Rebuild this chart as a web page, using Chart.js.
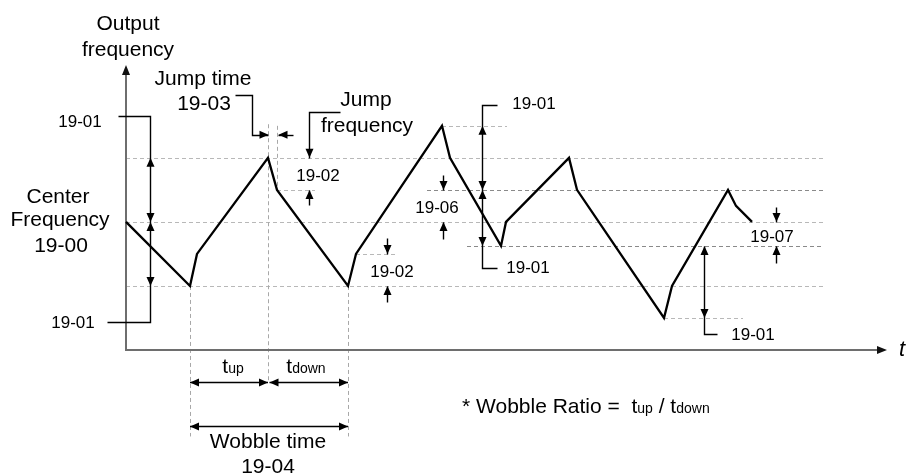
<!DOCTYPE html>
<html lang="en">
<head>
<meta charset="UTF-8">
<title>Wobble frequency</title>
<script src="https://cdn.jsdelivr.net/npm/chart.js@4.4.1/dist/chart.umd.min.js"></script>
<style>
  html, body { margin: 0; padding: 0; background: #fff; }
  .chart-container { position: relative; width: 907px; height: 474px; }
</style>
</head>
<body>
<div class="chart-container"><canvas id="myChart"></canvas></div>
<script>
// output frequency curve: time and frequency values
const timePoints = [0, 64, 71, 142, 151, 222, 230, 316, 324, 375, 380, 443, 451, 538, 546, 602, 610, 626];
const freqValues = [50, 30, 40, 70, 60, 30, 40, 80, 70, 42.5, 50, 70, 60, 20, 30, 60, 55, 50];

// dashed reference levels: [level, from t, to t, darker]
const guideLevels = [
  [70, 0, 697, false],
  [50, 0, 697, false],
  [30, 0, 697, false],
  [80, 316, 381, false],
  [60, 301, 697, true],
  [42.5, 341, 697, true],
  [20, 538, 617, false],
  [60, 151, 189, false],
  [40, 230, 269, false]
];
// dashed time markers: [t, from level, to level]
const guideTimes = [
  [64, 30, -17],
  [142, 80.5, 0],
  [151, 80, 60],
  [222, 30, -17]
];

// leader lines (t, level)
const leaders = [
  [[-8, 83.1], [24, 83.1], [24, 18.75], [-19, 18.75]],
  [[109, 89.7], [126, 89.7], [126, 77.2], [142, 77.2]],
  [[167, 77.2], [152, 77.2]],
  [[214, 84.4], [183, 84.4], [183, 70]],
  [[183, 55.3], [183, 60]],
  [[261, 45], [261, 40]],
  [[261, 25], [261, 30]],
  [[317, 64.7], [317, 60]],
  [[317, 44.7], [317, 50]],
  [[371, 86.6], [356, 86.6], [356, 35.6], [371, 35.6]],
  [[650, 54.7], [650, 50]],
  [[650, 37.2], [650, 42.5]],
  [[578, 42.5], [578, 15], [591, 15]]
];
const heads = [
  [24, 70, 'up'], [24, 50, 'down'], [24, 50, 'up'], [24, 30, 'down'],
  [142, 77.2, 'right'], [152, 77.2, 'left'],
  [183, 70, 'down'], [183, 60, 'up'],
  [261, 40, 'down'], [261, 30, 'up'],
  [317, 60, 'down'], [317, 50, 'up'],
  [356, 80, 'up'], [356, 60, 'down'], [356, 60, 'up'], [356, 42.5, 'down'],
  [650, 50, 'down'], [650, 42.5, 'up'],
  [578, 42.5, 'up'], [578, 20, 'down']
];
// double arrows: [from t, to t, level]
const spans = [[64, 142, 0], [143.5, 222, 0], [64, 222, -13.75]];

// texts: [text, t, level, big]
const labels = [
  ['Output', 2, 111.6, true],
  ['frequency', 2, 103.75, true],
  ['19-01', -46, 81.25, false],
  ['Center', -68, 57.8, true],
  ['Frequency', -66, 50.6, true],
  ['19-00', -65, 42.5, true],
  ['19-01', -53, 18.4, false],
  ['Jump time', 77, 94.7, true],
  ['19-03', 78, 86.9, true],
  ['Jump', 240, 88.1, true],
  ['frequency', 241, 80, true],
  ['19-02', 192, 64.1, false],
  ['19-02', 266, 34.4, false],
  ['19-06', 311, 54.4, false],
  ['19-01', 408, 86.6, false],
  ['19-01', 402, 35.6, false],
  ['19-07', 646, 45.3, false],
  ['19-01', 627, 14.7, false],
  ['Wobble time', 142, -18.75, true],
  ['19-04', 142, -26.5, true]
];
// texts with subscripts: [parts, t, level, centered]
const subLabels = [
  [[['t', 0], ['up', 1]], 107, 2.8, true],
  [[['t', 0], ['down', 1]], 180, 2.8, true],
  [[['* Wobble Ratio =  ', 0], ['t', 0], ['up', 1], [' / ', 0], ['t', 0], ['down', 1]], 336, -9.8, false]
];

const FONT = '"Liberation Sans", Arial, sans-serif';

function arrowHead(ctx, x, y, dir, len, half) {
   ctx.beginPath();
   ctx.moveTo(x, y);
   if (dir === 'up') { ctx.lineTo(x - half, y + len); ctx.lineTo(x + half, y + len); }
   if (dir === 'down') { ctx.lineTo(x - half, y - len); ctx.lineTo(x + half, y - len); }
   if (dir === 'left') { ctx.lineTo(x + len, y - half); ctx.lineTo(x + len, y + half); }
   if (dir === 'right') { ctx.lineTo(x - len, y - half); ctx.lineTo(x - len, y + half); }
   ctx.closePath();
   ctx.fill();
}

const diagramPlugin = {
   id: 'diagram',
   beforeDatasetsDraw(chart) {
      const ctx = chart.ctx;
      const xs = chart.scales.x, ys = chart.scales.y;
      ctx.save();
      ctx.lineWidth = 1;
      ctx.setLineDash([4, 3]);
      guideLevels.forEach(([lvl, a, b, dark]) => {
         const y = Math.round(ys.getPixelForValue(lvl)) + 0.5;
         ctx.strokeStyle = dark ? '#8a8a8a' : '#b8b8b8';
         ctx.beginPath();
         ctx.moveTo(xs.getPixelForValue(a), y);
         ctx.lineTo(xs.getPixelForValue(b), y);
         ctx.stroke();
      });
      ctx.strokeStyle = '#a8a8a8';
      guideTimes.forEach(([t, a, b]) => {
         const x = Math.round(xs.getPixelForValue(t)) + 0.5;
         ctx.beginPath();
         ctx.moveTo(x, ys.getPixelForValue(a));
         ctx.lineTo(x, ys.getPixelForValue(b));
         ctx.stroke();
      });
      ctx.setLineDash([]);

      // axes
      const x0 = xs.getPixelForValue(0), y0 = ys.getPixelForValue(10);
      const yTop = ys.getPixelForValue(99), xEnd = xs.getPixelForValue(761);
      ctx.strokeStyle = '#6e6e6e';
      ctx.lineWidth = 2;
      ctx.beginPath();
      ctx.moveTo(x0, yTop + 6);
      ctx.lineTo(x0, y0);
      ctx.lineTo(xEnd - 6, y0);
      ctx.stroke();
      ctx.fillStyle = '#111';
      arrowHead(ctx, x0, yTop, 'up', 10, 4);
      arrowHead(ctx, xEnd, y0, 'right', 10, 4);
      ctx.restore();
   },
   afterDatasetsDraw(chart) {
      const ctx = chart.ctx;
      const xs = chart.scales.x, ys = chart.scales.y;
      const px = v => xs.getPixelForValue(v), py = v => ys.getPixelForValue(v);
      ctx.save();
      ctx.strokeStyle = '#000';
      ctx.fillStyle = '#000';
      ctx.lineWidth = 1.4;
      leaders.forEach(pts => {
         ctx.beginPath();
         pts.forEach(([t, l], i) => {
            const x = Math.round(px(t)) + 0.5, y = Math.round(py(l)) + 0.5;
            if (i === 0) ctx.moveTo(x, y); else ctx.lineTo(x, y);
         });
         ctx.stroke();
      });
      heads.forEach(([t, l, dir]) => arrowHead(ctx, Math.round(px(t)) + 0.5, py(l), dir, 9, 4));
      spans.forEach(([a, b, l]) => {
         const y = Math.round(py(l)) + 0.5;
         ctx.beginPath();
         ctx.moveTo(px(a), y);
         ctx.lineTo(px(b), y);
         ctx.stroke();
         arrowHead(ctx, px(a), y, 'left', 9, 4);
         arrowHead(ctx, px(b), y, 'right', 9, 4);
      });

      // texts
      ctx.textAlign = 'center';
      ctx.textBaseline = 'middle';
      labels.forEach(([txt, t, l, big]) => {
         ctx.font = (big ? 21 : 17) + 'px ' + FONT;
         ctx.fillText(txt, px(t), py(l));
      });
      ctx.textAlign = 'left';
      ctx.textBaseline = 'alphabetic';
      subLabels.forEach(([parts, t, l, centered]) => {
         let w = 0;
         parts.forEach(([s, sub]) => {
            ctx.font = (sub ? 14 : 21) + 'px ' + FONT;
            w += ctx.measureText(s).width;
         });
         let x = centered ? px(t) - w / 2 : px(t);
         parts.forEach(([s, sub]) => {
            ctx.font = (sub ? 14 : 21) + 'px ' + FONT;
            ctx.fillText(s, x, py(l));
            x += ctx.measureText(s).width;
         });
      });
      ctx.font = 'italic 22px ' + FONT;
      ctx.textBaseline = 'middle';
      ctx.fillText('t', px(773), py(10));
      ctx.restore();
   }
};

const config = {
   type: 'line',
   data: {
      datasets: [{
         data: timePoints.map((t, i) => ({ x: t, y: freqValues[i] })),
         borderColor: '#000',
         borderWidth: 2.3,
         pointRadius: 0,
         tension: 0,
         fill: false,
         clip: false
      }]
   },
   options: {
      responsive: true,
      maintainAspectRatio: false,
      animation: false,
      layout: { padding: { left: 126, right: 20, top: 65, bottom: 124 } },
      plugins: { legend: { display: false }, tooltip: { enabled: false } },
      scales: {
         x: { type: 'linear', display: false, min: 0, max: 761 },
         y: { type: 'linear', display: false, min: 10, max: 99 }
      }
   },
   plugins: [diagramPlugin]
};

const ctx = document.getElementById('myChart').getContext('2d');
const chart = new Chart(ctx, config);
</script>
</body>
</html>
